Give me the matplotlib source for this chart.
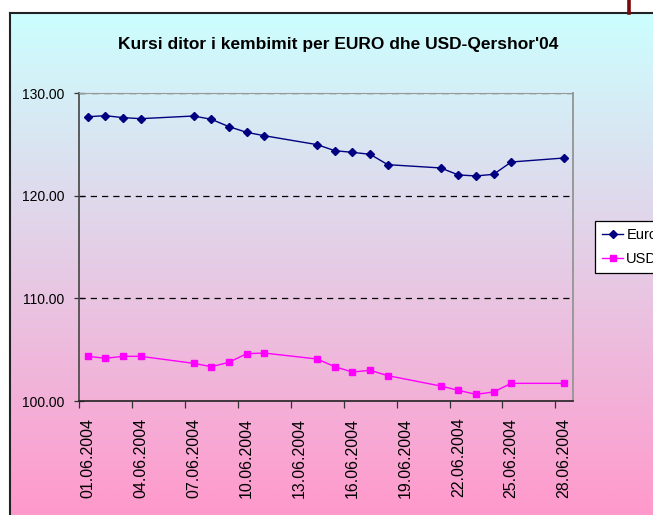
import numpy as np
import matplotlib
matplotlib.use("Agg")
import matplotlib.pyplot as plt

plt.rcParams["font.family"] = ["Liberation Sans", "DejaVu Sans"]

# day of June 2004 for each quotation
days = [1, 2, 3, 4, 7, 8, 9, 10, 11, 14, 15, 16, 17, 18, 21, 22, 23, 24, 25, 28]
euro = [127.69, 127.79, 127.60, 127.50, 127.76, 127.44, 126.72, 126.17, 125.84, 124.97,
        124.38, 124.22, 124.03, 123.02, 122.70, 122.02, 121.92, 122.08, 123.28, 123.67]
usd = [104.35, 104.16, 104.35, 104.35, 103.67, 103.34, 103.77, 104.61, 104.67, 104.09,
       103.34, 102.82, 102.99, 102.47, 101.46, 101.04, 100.65, 100.88, 101.72, 101.72]
label_days = [1, 4, 7, 10, 13, 16, 19, 22, 25, 28]
date_labels = [f"{d:02d}.06.2004" for d in label_days]
y_ticks = [100, 110, 120, 130]
title = "Kursi ditor i kembimit per EURO dhe USD-Qershor'04"

W, H = 653, 515
fig = plt.figure(figsize=(W / 100, H / 100), dpi=100)
fig.patch.set_facecolor("white")

# gradient chart area
bg = fig.add_axes([0, 0, 1, 1], zorder=0)
top = np.array([0xCC, 0xFF, 0xFF]) / 255
bot = np.array([0xFF, 0x99, 0xCC]) / 255
t = np.linspace(0, 1, 256)[:, None]
grad = top[None, :] * (1 - t) + bot[None, :] * t
grad = np.repeat(grad[:, None, :], 2, axis=1)
x0 = 9.5 / W
y1 = 1 - 13 / H
bg.imshow(grad, extent=[x0, 1.02, 0, y1], aspect="auto", origin="upper")
bg.set_xlim(0, 1)
bg.set_ylim(0, 1)
bg.axis("off")
bg.plot([x0, x0], [0, y1], color="#222222", lw=1.5)
bg.plot([x0, 1], [y1, y1], color="#222222", lw=1.5)
bg.plot([628.8 / W, 628.8 / W], [y1, 1], color="#7a0a0a", lw=2.6)

ax = fig.add_axes([79 / W, 1 - 401 / H, (573 - 79) / W, (401 - 93) / H], zorder=1)
ax.patch.set_alpha(0)

ax.plot(days, euro, color="#000080", lw=1.0, marker="D", ms=4.2, label="Euro", zorder=3)
ax.plot(days, usd, color="#FF00FF", lw=1.0, marker="s", ms=4.6, label="USD", zorder=3)

ax.set_xlim(0.5, 28.5)
ax.set_ylim(100, 130)
for yv in y_ticks[1:3]:
    ax.axhline(yv, color="black", lw=0.9, ls=(0, (5, 4)), zorder=2)
ax.axhline(130, color="#555555", lw=1.0, ls=(0, (5, 4)), zorder=2.5)

ax.set_yticks(y_ticks)
ax.set_yticklabels([f"{v:.2f}" for v in y_ticks], fontsize=10)
ax.tick_params(axis="y", direction="inout", length=7, width=0.9, color="#333333", pad=7)

ax.set_xticks(np.arange(0.5, 28, 3))
ax.set_xticklabels([])
ax.set_xticks(label_days, minor=True)
ax.set_xticklabels(date_labels, minor=True, rotation=90, fontsize=11.5)
ax.tick_params(axis="x", which="major", direction="out", length=5, width=0.9, color="#333333")
ax.tick_params(axis="x", which="minor", length=0, pad=12)

ax.spines["left"].set_color("#444444")
ax.spines["bottom"].set_color("#222222")
ax.spines["left"].set_linewidth(1.2)
ax.spines["bottom"].set_linewidth(1.2)
ax.spines["top"].set_color("#999999")
ax.spines["right"].set_color("#999999")
ax.spines["right"].set_linewidth(1.4)

fig.text(338 / W, 1 - 44 / H, title, ha="center", va="center",
         fontsize=12.5, fontweight="bold")

leg = ax.legend(loc="upper left", bbox_to_anchor=(595 / W, 1 - 221 / H),
                bbox_transform=fig.transFigure, fontsize=10.5, frameon=True,
                fancybox=False, edgecolor="black", framealpha=1,
                handlelength=1.4, handletextpad=0.25, borderpad=0.5,
                labelspacing=0.65, borderaxespad=0)
leg.get_frame().set_linewidth(0.9)

fig.savefig("out.png", dpi=100)
